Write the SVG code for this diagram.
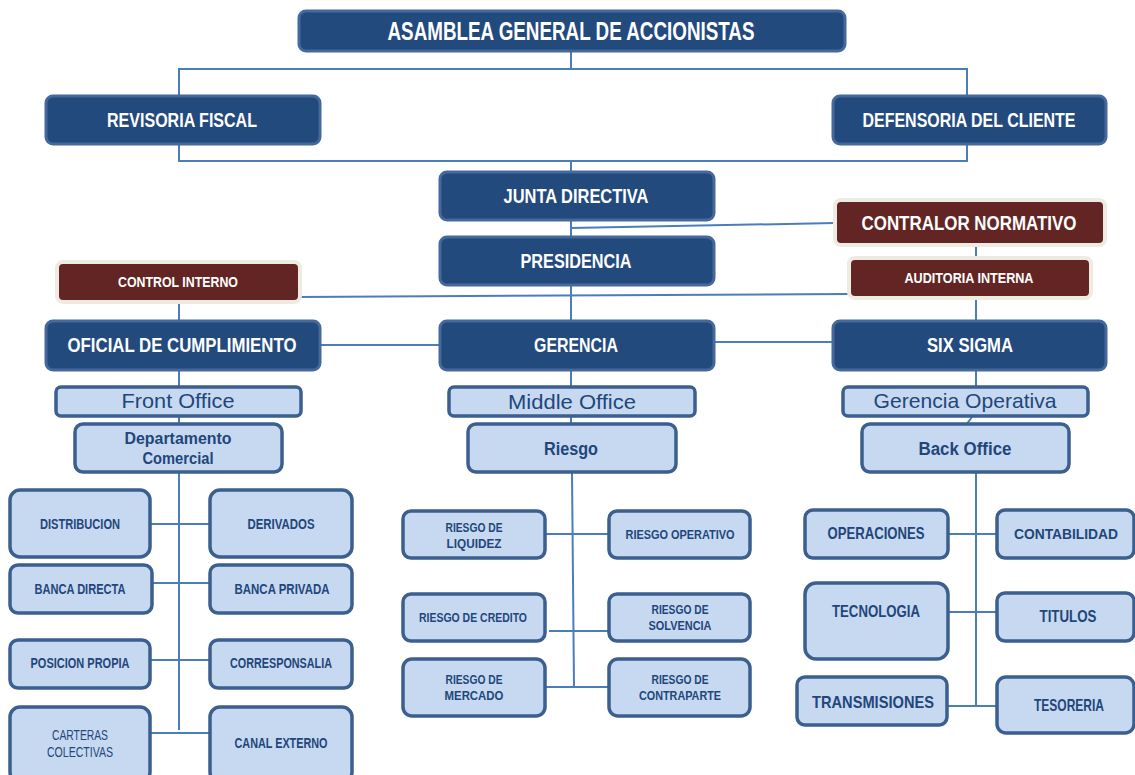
<svg xmlns="http://www.w3.org/2000/svg" width="1135" height="775" viewBox="0 0 1135 775">
<style>
.dk{fill:#234A7D;stroke:#45699C;stroke-width:3}
.rd{fill:#632523;stroke:#EEECE1;stroke-width:4}
.lt{fill:#C6D9F1;stroke:#3B5F8E;stroke-width:3.5}
.c{fill:none;stroke:#4A7EBB;stroke-width:2}
text{font-family:"Liberation Sans Narrow","Liberation Sans",Arial,sans-serif;text-anchor:middle}
.w{fill:#FFFFFF;font-weight:bold}
.b{fill:#23467A;font-weight:bold}
.r{fill:#23467A;font-weight:normal}
</style>
<rect width="1135" height="775" fill="#FFFFFF"/>
<g id="connectors">
<polyline class="c" points="571,51 571,69"/>
<polyline class="c" points="179,96 179,69 967,69 967,96"/>
<polyline class="c" points="179,144 179,161 967,161 967,144"/>
<polyline class="c" points="571,161 571,172"/>
<polyline class="c" points="571,220 571,237"/>
<polyline class="c" points="571,228 835,223"/>
<polyline class="c" points="976,245 976,258"/>
<polyline class="c" points="300,297 849,294"/>
<polyline class="c" points="179,302 179,321"/>
<polyline class="c" points="571,285 571,321"/>
<polyline class="c" points="976,298 976,321"/>
<polyline class="c" points="320,345 440,345"/>
<polyline class="c" points="714,342 833,342"/>
<polyline class="c" points="179,370 179,387"/>
<polyline class="c" points="571,370 571,387"/>
<polyline class="c" points="976,370 976,387"/>
<polyline class="c" points="179,416 179,424"/>
<polyline class="c" points="571,416 571,424"/>
<polyline class="c" points="975,413 966,425"/>
<polyline class="c" points="179,472 179,730"/>
<polyline class="c" points="150,524 210,524"/>
<polyline class="c" points="152,583 210,583"/>
<polyline class="c" points="150,660 210,660"/>
<polyline class="c" points="150,733 210,733"/>
<polyline class="c" points="572,472 574,687"/>
<polyline class="c" points="545,534 609,534"/>
<polyline class="c" points="549,631 609,631"/>
<polyline class="c" points="545,687 609,687"/>
<polyline class="c" points="976,472 976,706"/>
<polyline class="c" points="948,534 997,534"/>
<polyline class="c" points="948,612 997,612"/>
<polyline class="c" points="947,706 997,706"/>
</g>
<g id="asamblea"><rect class="dk" x="299" y="11" width="546" height="40" rx="7"/><text class="w" x="571" y="40" font-size="25" textLength="367" lengthAdjust="spacingAndGlyphs">ASAMBLEA GENERAL DE ACCIONISTAS</text></g>
<g id="revisoria"><rect class="dk" x="46" y="96" width="274" height="48" rx="7"/><text class="w" x="182" y="127" font-size="21" textLength="150" lengthAdjust="spacingAndGlyphs">REVISORIA FISCAL</text></g>
<g id="defensoria"><rect class="dk" x="833" y="96" width="273" height="48" rx="7"/><text class="w" x="969" y="127" font-size="19.5" textLength="213" lengthAdjust="spacingAndGlyphs">DEFENSORIA DEL CLIENTE</text></g>
<g id="junta"><rect class="dk" x="440" y="172" width="274" height="48" rx="7"/><text class="w" x="576" y="203" font-size="21" textLength="145" lengthAdjust="spacingAndGlyphs">JUNTA DIRECTIVA</text></g>
<g id="presidencia"><rect class="dk" x="440" y="237" width="274" height="48" rx="7"/><text class="w" x="576" y="268" font-size="21" textLength="111" lengthAdjust="spacingAndGlyphs">PRESIDENCIA</text></g>
<g id="contralor"><rect class="rd" x="835" y="200" width="270" height="45" rx="6"/><text class="w" x="969" y="230" font-size="19.5" textLength="215" lengthAdjust="spacingAndGlyphs">CONTRALOR NORMATIVO</text></g>
<g id="auditoria"><rect class="rd" x="849" y="258" width="242" height="40" rx="6"/><text class="w" x="969" y="283" font-size="14" textLength="129" lengthAdjust="spacingAndGlyphs">AUDITORIA INTERNA</text></g>
<g id="control"><rect class="rd" x="57" y="262" width="243" height="40" rx="6"/><text class="w" x="178" y="287" font-size="14" textLength="120" lengthAdjust="spacingAndGlyphs">CONTROL INTERNO</text></g>
<g id="oficial"><rect class="dk" x="46" y="321" width="274" height="49" rx="7"/><text class="w" x="182" y="352" font-size="19.5" textLength="229" lengthAdjust="spacingAndGlyphs">OFICIAL DE CUMPLIMIENTO</text></g>
<g id="gerencia"><rect class="dk" x="440" y="321" width="274" height="49" rx="7"/><text class="w" x="576" y="352" font-size="19.5" textLength="84" lengthAdjust="spacingAndGlyphs">GERENCIA</text></g>
<g id="sixsigma"><rect class="dk" x="833" y="321" width="273" height="49" rx="7"/><text class="w" x="970" y="352" font-size="19.5" textLength="86" lengthAdjust="spacingAndGlyphs">SIX SIGMA</text></g>
<g id="front"><rect class="lt" x="56" y="387" width="245" height="29" rx="5"/><text class="r" x="178" y="408" font-size="21" textLength="113" lengthAdjust="spacingAndGlyphs">Front Office</text></g>
<g id="middle"><rect class="lt" x="449" y="387" width="246" height="29" rx="5"/><text class="r" x="572" y="409" font-size="21" textLength="128" lengthAdjust="spacingAndGlyphs">Middle Office</text></g>
<g id="gerop"><rect class="lt" x="843" y="387" width="245" height="29" rx="5"/><text class="r" x="965" y="408" font-size="21" textLength="183" lengthAdjust="spacingAndGlyphs">Gerencia Operativa</text></g>
<g id="depto"><rect class="lt" x="75" y="424" width="207" height="48" rx="8"/><text class="b" x="178" y="444" font-size="16.5" textLength="107" lengthAdjust="spacingAndGlyphs">Departamento</text><text class="b" x="178" y="464" font-size="16.5" textLength="71" lengthAdjust="spacingAndGlyphs">Comercial</text></g>
<g id="riesgo"><rect class="lt" x="468" y="424" width="208" height="48" rx="8"/><text class="b" x="571" y="455" font-size="18" textLength="54" lengthAdjust="spacingAndGlyphs">Riesgo</text></g>
<g id="backoffice"><rect class="lt" x="862" y="424" width="207" height="48" rx="8"/><text class="b" x="965" y="455" font-size="18" textLength="93" lengthAdjust="spacingAndGlyphs">Back Office</text></g>
<g id="distribucion"><rect class="lt" x="10" y="490" width="140" height="67" rx="10"/><text class="b" x="80" y="529" font-size="14" textLength="80" lengthAdjust="spacingAndGlyphs">DISTRIBUCION</text></g>
<g id="derivados"><rect class="lt" x="210" y="490" width="142" height="67" rx="10"/><text class="b" x="281" y="529" font-size="14" textLength="67" lengthAdjust="spacingAndGlyphs">DERIVADOS</text></g>
<g id="bancadirecta"><rect class="lt" x="10" y="565" width="142" height="48" rx="8"/><text class="b" x="80" y="594" font-size="14" textLength="91" lengthAdjust="spacingAndGlyphs">BANCA DIRECTA</text></g>
<g id="bancaprivada"><rect class="lt" x="210" y="565" width="142" height="48" rx="8"/><text class="b" x="282" y="594" font-size="14" textLength="95" lengthAdjust="spacingAndGlyphs">BANCA PRIVADA</text></g>
<g id="posicion"><rect class="lt" x="10" y="640" width="140" height="48" rx="8"/><text class="b" x="80" y="668" font-size="14" textLength="99" lengthAdjust="spacingAndGlyphs">POSICION PROPIA</text></g>
<g id="corresponsalia"><rect class="lt" x="210" y="640" width="142" height="48" rx="8"/><text class="b" x="281" y="668" font-size="14" textLength="102" lengthAdjust="spacingAndGlyphs">CORRESPONSALIA</text></g>
<g id="carteras"><rect class="lt" x="10" y="707" width="140" height="75" rx="10"/><text class="r" x="80" y="740" font-size="14" textLength="56" lengthAdjust="spacingAndGlyphs">CARTERAS</text><text class="r" x="80" y="757" font-size="14" textLength="66" lengthAdjust="spacingAndGlyphs">COLECTIVAS</text></g>
<g id="canal"><rect class="lt" x="210" y="707" width="142" height="75" rx="10"/><text class="b" x="281" y="748" font-size="14" textLength="93" lengthAdjust="spacingAndGlyphs">CANAL EXTERNO</text></g>
<g id="liquidez"><rect class="lt" x="403" y="511" width="142" height="47" rx="8"/><text class="b" x="474" y="532" font-size="13" textLength="57" lengthAdjust="spacingAndGlyphs">RIESGO DE</text><text class="b" x="474" y="548" font-size="13" textLength="55" lengthAdjust="spacingAndGlyphs">LIQUIDEZ</text></g>
<g id="operativo"><rect class="lt" x="609" y="511" width="141" height="47" rx="8"/><text class="b" x="680" y="539" font-size="13" textLength="109" lengthAdjust="spacingAndGlyphs">RIESGO OPERATIVO</text></g>
<g id="credito"><rect class="lt" x="403" y="594" width="142" height="47" rx="8"/><text class="b" x="473" y="622" font-size="13" textLength="108" lengthAdjust="spacingAndGlyphs">RIESGO DE CREDITO</text></g>
<g id="solvencia"><rect class="lt" x="609" y="594" width="141" height="47" rx="8"/><text class="b" x="680" y="614" font-size="13" textLength="57" lengthAdjust="spacingAndGlyphs">RIESGO DE</text><text class="b" x="680" y="630" font-size="13" textLength="63" lengthAdjust="spacingAndGlyphs">SOLVENCIA</text></g>
<g id="mercado"><rect class="lt" x="403" y="659" width="142" height="57" rx="9"/><text class="b" x="474" y="684" font-size="13" textLength="57" lengthAdjust="spacingAndGlyphs">RIESGO DE</text><text class="b" x="474" y="700" font-size="13" textLength="59" lengthAdjust="spacingAndGlyphs">MERCADO</text></g>
<g id="contraparte"><rect class="lt" x="609" y="659" width="141" height="57" rx="9"/><text class="b" x="680" y="684" font-size="13" textLength="57" lengthAdjust="spacingAndGlyphs">RIESGO DE</text><text class="b" x="680" y="700" font-size="13" textLength="82" lengthAdjust="spacingAndGlyphs">CONTRAPARTE</text></g>
<g id="operaciones"><rect class="lt" x="805" y="510" width="143" height="48" rx="8"/><text class="b" x="876" y="539" font-size="16.5" textLength="97" lengthAdjust="spacingAndGlyphs">OPERACIONES</text></g>
<g id="contabilidad"><rect class="lt" x="997" y="510" width="137" height="48" rx="8"/><text class="b" x="1066" y="539" font-size="15.5" textLength="104" lengthAdjust="spacingAndGlyphs">CONTABILIDAD</text></g>
<g id="tecnologia"><rect class="lt" x="805" y="583" width="143" height="76" rx="11"/><text class="b" x="876" y="617" font-size="16.5" textLength="88" lengthAdjust="spacingAndGlyphs">TECNOLOGIA</text></g>
<g id="titulos"><rect class="lt" x="997" y="593" width="137" height="48" rx="8"/><text class="b" x="1068" y="622" font-size="16.5" textLength="57" lengthAdjust="spacingAndGlyphs">TITULOS</text></g>
<g id="transmisiones"><rect class="lt" x="797" y="677" width="150" height="48" rx="8"/><text class="b" x="873" y="708" font-size="16.5" textLength="122" lengthAdjust="spacingAndGlyphs">TRANSMISIONES</text></g>
<g id="tesoreria"><rect class="lt" x="997" y="677" width="137" height="56" rx="9"/><text class="b" x="1069" y="711" font-size="16.5" textLength="70" lengthAdjust="spacingAndGlyphs">TESORERIA</text></g>
</svg>
